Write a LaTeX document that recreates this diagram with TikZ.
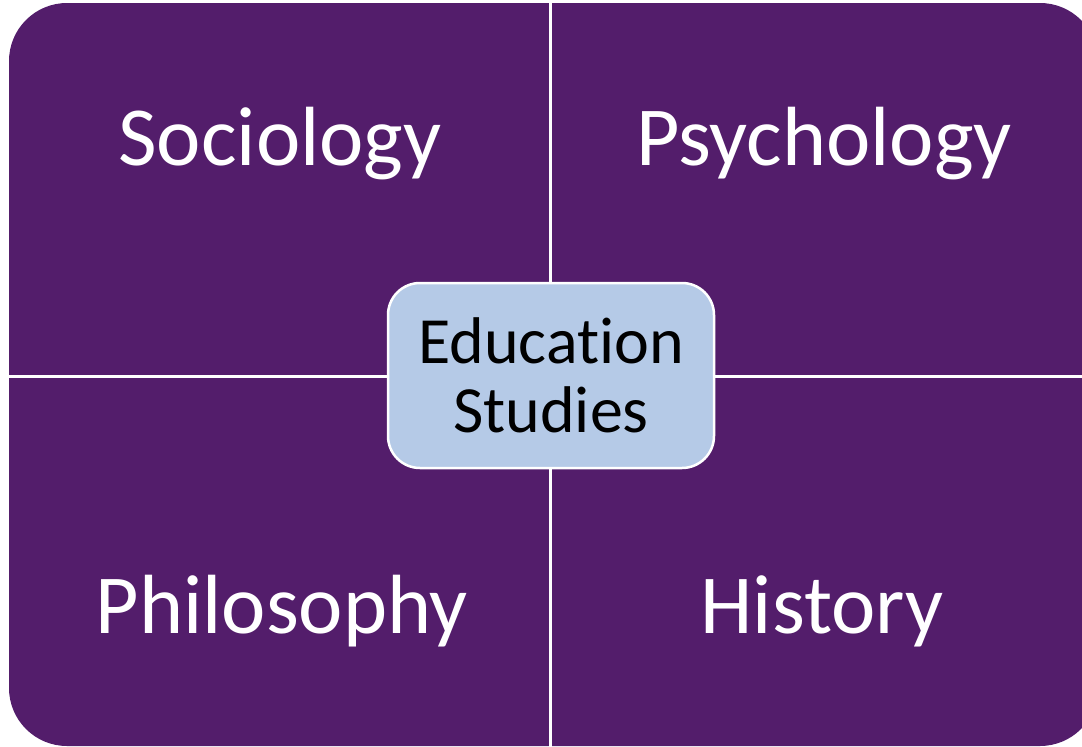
\documentclass[tikz,border=0pt]{standalone}
\usepackage{fontspec}
\setmainfont{Carlito}[Ligatures=NoCommon]
\usepackage{tikz}

\definecolor{fieldpurple}{RGB}{83,29,107}
\definecolor{hubblue}{RGB}{181,202,231}

\begin{document}
\begin{tikzpicture}[x=1pt, y=-1pt]
    \tikzstyle{field} = [text=white, font=\fontsize{84}{84}\selectfont, anchor=base, inner sep=0pt]
    \tikzstyle{hub} = [rectangle, draw=white, line width=2.5pt, fill=hubblue, rounded corners=32pt, minimum width=326pt, minimum height=185pt, align=center, font=\fontsize{66}{67}\selectfont]
    \tikzstyle{gap} = [white, line width=3pt]

    \useasboundingbox (0,0) rectangle (1082,747);

    % purple block, cut off at the right edge
    \begin{scope}
        \clip (0,0) rectangle (1082,747);
        \fill[fieldpurple, rounded corners=58pt] (9,3) rectangle (1098,746);
    \end{scope}

    % white gaps between the four fields
    \coordinate (gaptop) at (550,0);
    \coordinate (gapbottom) at (550,747);
    \coordinate (gapleft) at (9,376);
    \coordinate (gapright) at (1082,376);
    \draw[gap] (gaptop) -- (gapbottom);
    \draw[gap] (gapleft) -- (gapright);

    \node[field] (sociology) at (280,165) {Sociology};
    \node[field] (psychology) at (824,165) {Psychology};
    \node[field] (philosophy) at (282,633) {Philosophy};
    \node[field] (history) at (822,633) {History};

    \node[hub] (education) at (551,375.5) {\raisebox{2pt}{Education}\\Studies};
\end{tikzpicture}
\end{document}
